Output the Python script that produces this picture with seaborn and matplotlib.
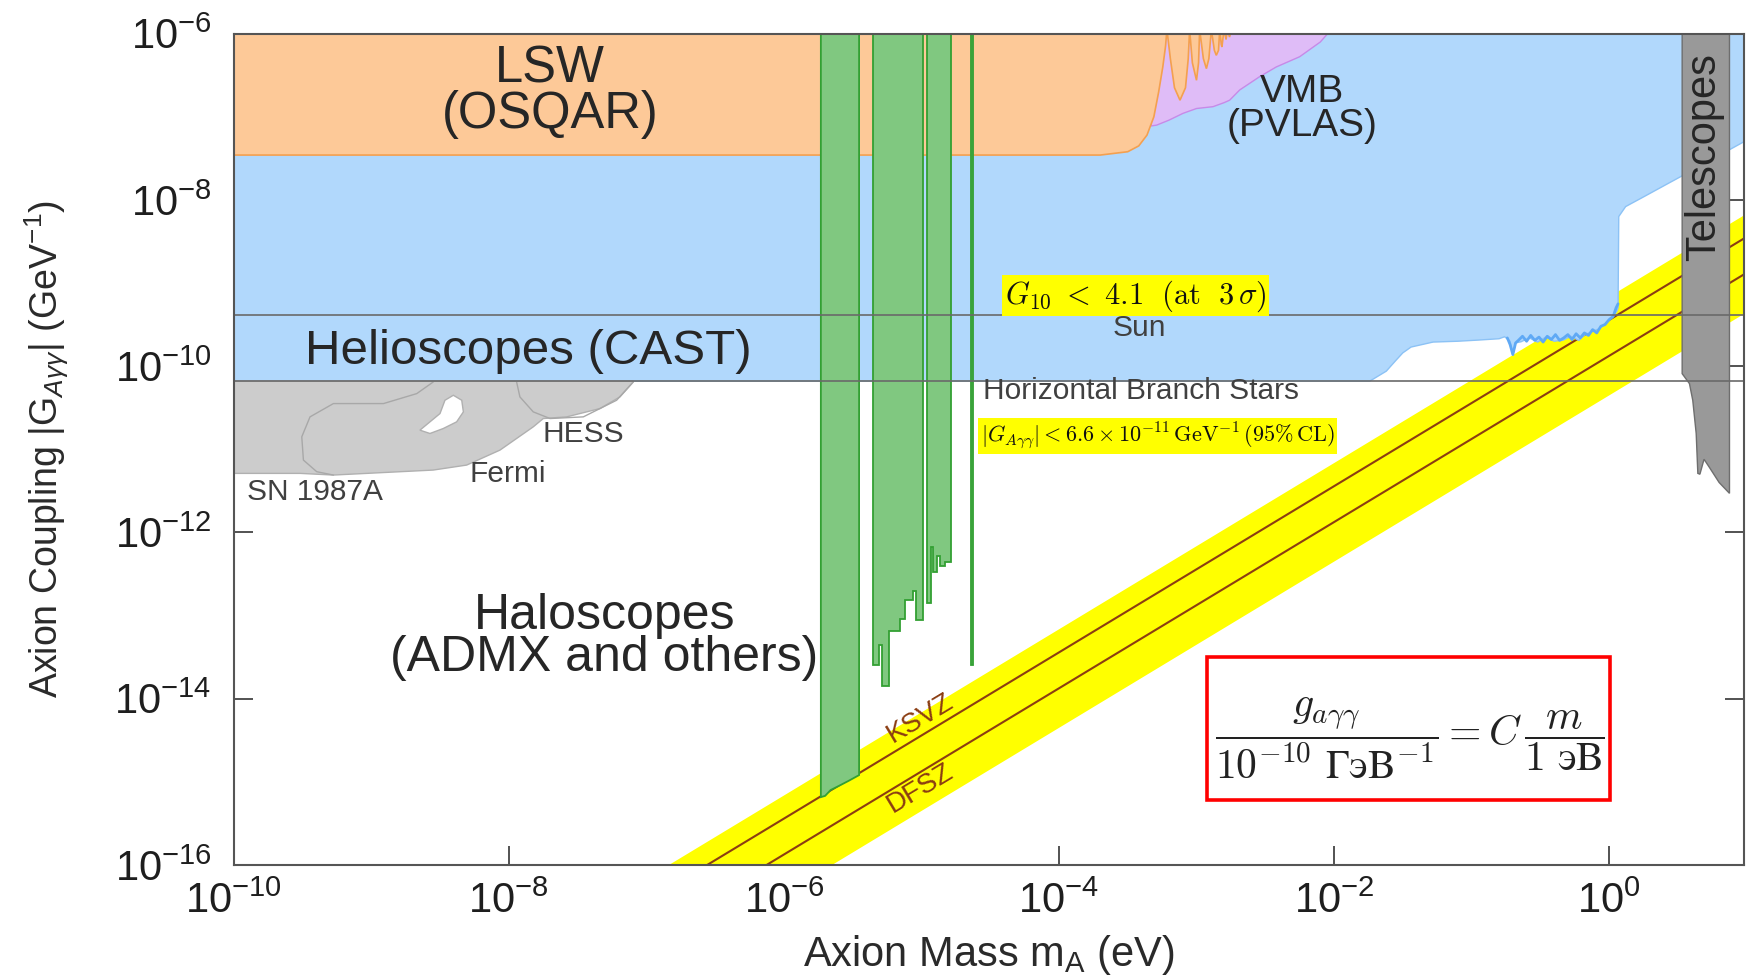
"""Axion parameter space: coupling vs mass exclusion regions (log-log)."""
import matplotlib
matplotlib.use("Agg")
import matplotlib.pyplot as plt
import numpy as np
import seaborn as sns
from matplotlib.patches import Rectangle
from matplotlib.ticker import NullLocator

# All values are log10: x = log10(m_A / eV), y = log10(|G| / GeV^-1)
TOP = -5.9  # just above the plot, regions are clipped by the axes

# LSW (OSQAR): lower boundary, oscillating at high mass
lsw_x = [-10, -3.70, -3.50, -3.42, -3.36, -3.31, -3.275, -3.245, -3.225, -3.215,
         -3.19, -3.16, -3.12, -3.08, -3.06, -3.05, -3.03, -3.00, -2.985,
         -2.977, -2.95, -2.928, -2.91, -2.892, -2.87, -2.856, -2.84, -2.831,
         -2.82, -2.815, -2.80, -2.785, -2.775, -2.76, -2.745]
lsw_y = [-7.46, -7.46, -7.42, -7.35, -7.22, -7.00, -6.70, -6.40, -6.15, -5.95,
         -6.30, -6.65, -6.80, -6.65, -6.30, -5.95, -6.35, -6.56, -6.35,
         -5.95, -6.30, -6.42, -6.30, -5.95, -6.20, -6.26, -6.20, -5.95,
         -6.13, -6.16, -5.95, -6.07, -5.95, -6.04, -5.95]

# VMB (PVLAS)
vmb_x = [-3.33, -3.29, -3.20, -3.098, -3.00, -2.88, -2.80, -2.759, -2.686,
         -2.541, -2.42, -2.25, -2.10, -2.02]
vmb_y = [-7.11, -7.10, -7.04, -6.958, -6.90, -6.878, -6.83, -6.80, -6.677,
         -6.517, -6.40, -6.277, -6.10, -5.95]

# Helioscopes (CAST)
cast_x = [-10, -1.74, -1.62, -1.55, -1.50, -1.44, -1.36, -1.28, -1.10, -0.95,
          -0.80, -0.76, -0.72, -0.70, -0.68, -0.64, -0.58, -0.52, -0.46, -0.40,
          -0.333, -0.28, -0.22, -0.18, -0.12, -0.07, -0.027, 0.02, 0.055, 0.065,
          0.07, 0.12, 0.254, 0.431, 0.52, 0.98]
cast_y = [-10.18, -10.18, -10.06, -9.93, -9.84, -9.77, -9.74, -9.71, -9.70,
          -9.686, -9.67, -9.646, -9.70, -9.87, -9.72, -9.706, -9.66, -9.71,
          -9.65, -9.70, -9.686, -9.64, -9.69, -9.626, -9.58, -9.55, -9.485,
          -9.42, -9.34, -9.30, -8.20, -8.08, -7.96, -7.80, -7.72, -7.30]
cast_noise_x = [-0.74, -0.72, -0.70, -0.68, -0.66, -0.63, -0.60, -0.57, -0.54,
                -0.51, -0.48, -0.45, -0.42, -0.39, -0.36, -0.33, -0.30, -0.27,
                -0.24, -0.21, -0.18, -0.15, -0.12, -0.09, -0.06, -0.03, 0.0,
                0.03, 0.05, 0.065]
cast_noise_y = [-9.66, -9.74, -9.86, -9.72, -9.69, -9.64, -9.70, -9.63, -9.69,
                -9.65, -9.71, -9.64, -9.68, -9.62, -9.69, -9.66, -9.62, -9.68,
                -9.61, -9.66, -9.60, -9.63, -9.56, -9.60, -9.52, -9.50, -9.44,
                -9.40, -9.30, -9.25]

# Haloscopes (ADMX and others): stepped lower edges of each strip
halo_strips = {
    "s1": ([-5.731, -5.70, -5.66, -5.60, -5.53, -5.453],
           [-15.185, -15.17, -15.10, -15.05, -14.99, -14.92]),
    "s2": ([-5.355, -5.307, -5.307, -5.283, -5.283, -5.234, -5.234, -5.157,
            -5.157, -5.121, -5.121, -5.060, -5.060, -5.041, -5.041, -4.992],
           [-13.60, -13.60, -13.35, -13.35, -13.85, -13.85, -13.19, -13.19,
            -13.04, -13.04, -12.81, -12.81, -12.70, -12.70, -13.05, -13.05]),
    "s3": ([-4.956, -4.932, -4.932, -4.915, -4.915, -4.890, -4.890, -4.866,
            -4.866, -4.830, -4.830, -4.786],
           [-12.85, -12.85, -12.18, -12.18, -12.48, -12.48, -12.29, -12.29,
            -12.40, -12.40, -12.36, -12.36]),
    "s4": ([-4.641, -4.625], [-13.60, -13.60]),
}

# Astrophysics (SN 1987A / Fermi / HESS) lower boundary under the HB line
astro_x = [-10, -9.517, -9.275, -9.033, -8.791, -8.549, -8.306, -8.064,
           -7.943, -7.822, -7.749, -7.579, -7.337, -7.192, -7.095]
astro_y = [-11.29, -11.29, -11.31, -11.29, -11.27, -11.25, -11.19, -11.01,
           -10.87, -10.73, -10.63, -10.61, -10.51, -10.37, -10.19]
fermi_x = [-8.549, -8.669, -8.911, -9.275, -9.445, -9.505, -9.493, -9.396, -9.275]
fermi_y = [-10.19, -10.33, -10.45, -10.45, -10.61, -10.85, -11.13, -11.27, -11.31]
hess_x = [-7.943, -7.919, -7.822, -7.70, -7.458, -7.216, -7.095]
hess_y = [-10.19, -10.37, -10.55, -10.63, -10.61, -10.41, -10.19]
hole_x = [-8.646, -8.573, -8.50, -8.464, -8.403, -8.342, -8.330, -8.379, -8.476, -8.573]
hole_y = [-10.77, -10.67, -10.57, -10.41, -10.35, -10.41, -10.55, -10.67, -10.75, -10.81]

# Telescopes
tel_x = [0.531, 0.531, 0.584, 0.608, 0.633, 0.645, 0.66, 0.69, 0.73, 0.80, 0.875, 0.875]
tel_y = [TOP, -10.09, -10.21, -10.41, -10.81, -11.29, -11.30, -11.12, -11.22,
         -11.40, -11.53, TOP]

# QCD axion band and model lines (straight in log-log)
band_x = [-7.0, 1.0]
band_hi = [-16.157, -8.157]
band_lo = [-17.343, -9.343]
ksvz_y = [-16.444, -8.444]
dfsz_y = [-16.876, -8.876]

# horizontal limits
sun_limit = 4.1e-10
hb_limit = 6.6e-11

# formula box corners
box_x = [-2.922, 0.008]
box_y = [-15.216, -13.50]

P = lambda v: np.power(10.0, np.asarray(v, dtype=float))

sns.set_theme(style="ticks")
plt.rcParams["font.family"] = ["Liberation Sans", "DejaVu Sans"]
plt.rcParams.update({
    "mathtext.fontset": "custom",
    "mathtext.rm": "Liberation Sans",
    "mathtext.it": "Liberation Sans:italic",
    "mathtext.bf": "Liberation Sans:bold",
    "axes.unicode_minus": False,
    "axes.edgecolor": "#555555",
    "axes.linewidth": 1.5,
})

fig = plt.figure(figsize=(17.61, 9.80), dpi=100)
ax = fig.add_axes([0.1327, 0.1175, 0.8576, 0.8481])
ax.set_xscale("log")
ax.set_yscale("log")


def region(xs, ys, top=TOP, **kw):
    px = list(xs) + [xs[-1], xs[0]]
    py = list(ys) + [top, top]
    ax.fill(P(px), P(py), **kw)


# stacking: axion band, CAST, VMB, LSW, haloscopes, astro, telescopes
ax.fill_between(P(band_x), P(band_lo), P(band_hi), color="#ffff00", lw=0, zorder=1)
region(cast_x, cast_y, facecolor="#b1d8fc", edgecolor="#8cc2f5", lw=1, zorder=2)
sns.lineplot(x=P(cast_noise_x), y=P(cast_noise_y), color="#5fa9f5", lw=2,
             ax=ax, zorder=2.5, sort=False, estimator=None)
region(vmb_x, vmb_y, facecolor="#dfbcf7", edgecolor="#c78ae8", lw=1, zorder=3)
region(lsw_x, lsw_y, facecolor="#fdc998", edgecolor="#f4a04f", lw=1.2, zorder=4)
for xs, ys in halo_strips.values():
    region(xs, ys, facecolor="#80c880", edgecolor="#33a033", lw=1.3, zorder=5)
region(astro_x, astro_y, top=np.log10(hb_limit), facecolor="#cccccc",
       edgecolor="#b0b0b0", lw=1, zorder=3)
ax.plot(P(fermi_x), P(fermi_y), color="#a8a8a8", lw=1, zorder=3.2)
ax.plot(P(hess_x), P(hess_y), color="#a8a8a8", lw=1, zorder=3.2)
ax.fill(P(hole_x), P(hole_y), facecolor="white", edgecolor="#b0b0b0", lw=1, zorder=3.3)
ax.fill(P(tel_x), P(tel_y), facecolor="#999999", edgecolor="#6e6e6e", lw=1, zorder=6)

for yv in (ksvz_y, dfsz_y):
    sns.lineplot(x=P(band_x), y=P(yv), color="#8b3d12", lw=1.5, ax=ax, zorder=1.5)

for lim in (sun_limit, hb_limit):
    ax.axhline(lim, color="#6a6a6a", lw=1.2, zorder=7)

ax.add_patch(Rectangle((P(box_x[0]), P(box_y[0])), P(box_x[1]) - P(box_x[0]),
                       P(box_y[1]) - P(box_y[0]), fill=False,
                       edgecolor="#ff0000", lw=2.6, zorder=8))

ax.set_xlim(1e-10, P(0.98))
ax.set_ylim(1e-16, 1e-6)
ax.set_xticks(P(np.arange(-10, 1, 2)))
ax.set_yticks(P(np.arange(-16, -5, 2)))
ax.xaxis.set_minor_locator(NullLocator())
ax.yaxis.set_minor_locator(NullLocator())
ax.tick_params(direction="in", length=14, width=1.3, color="#444444",
               top=True, right=True, labelsize=30, labelcolor="#1e1e1e")
ax.tick_params(axis="x", pad=12)
ax.tick_params(axis="y", pad=16)
for s in ax.spines.values():
    s.set_zorder(10)

ax.set_xlabel(r"Axion Mass m$_\mathregular{A}$ (eV)", fontsize=30, color="#2a2a2a")
ax.set_ylabel(r"Axion Coupling |G$_{A\gamma\gamma}$| (GeV$^{-1}$)", fontsize=27,
              color="#2a2a2a")
ax.xaxis.set_label_coords(0.5, -0.082)
ax.yaxis.set_label_coords(-0.108, 0.5)

txt = dict(color="#262626", ha="center", va="center", zorder=9)
ax.text(P(-7.698), P(-6.70), "LSW\n(OSQAR)", fontsize=36.5, linespacing=0.92, **txt)
ax.text(P(-2.23), P(-6.906), "VMB\n(PVLAS)", fontsize=28, linespacing=0.9, **txt)
ax.text(P(-7.857), P(-9.824), "Helioscopes (CAST)", fontsize=35.5, **txt)
ax.text(P(0.694), P(-7.486), "Telescopes", fontsize=30, rotation=90, **txt)
ax.text(P(-7.306), P(-13.26), "Haloscopes\n(ADMX and others)", fontsize=36,
        linespacing=0.9, **txt)

small = dict(color="#404040", fontsize=21.5, va="center", zorder=9)
ax.text(P(-3.412), P(-9.54), "Sun", ha="center", **small)
ax.text(P(-4.555), P(-10.30), "Horizontal Branch Stars", ha="left", **small)
ax.text(P(-9.90), P(-11.51), "SN 1987A", ha="left", **small)
ax.text(P(-8.286), P(-11.30), "Fermi", ha="left", **small)
ax.text(P(-7.755), P(-10.82), "HESS", ha="left", **small)

ax.text(P(-5.012), P(-14.235), "KSVZ", rotation=31, fontsize=20, color="#8b3d12",
        ha="center", va="center", zorder=9)
ax.text(P(-5.012), P(-15.077), "DFSZ", rotation=31, fontsize=20, color="#8b3d12",
        ha="center", va="center", zorder=9)

hl = dict(facecolor="#ffff00", edgecolor="none", pad=2)
ax.text(P(-3.441), P(-9.155), r"$G_{10}\ <\ 4.1\ \ (\mathrm{at}\ \ 3\,\sigma)$",
        fontsize=22, math_fontfamily="cm", bbox=hl, ha="center", va="center",
        color="#111111", zorder=9)
ax.text(P(-3.282), P(-10.838),
        r"$|G_{A\gamma\gamma}| < 6.6\times10^{-11}\,\mathrm{GeV}^{-1}\,(95\%\,\mathrm{CL})$",
        fontsize=16, math_fontfamily="cm", bbox=hl, ha="center", va="center",
        color="#111111", zorder=9)
ax.text(P(-1.445), P(-14.47),
        r"$\dfrac{g_{a\gamma\gamma}}{10^{-10}\ \mathrm{ГэВ}^{-1}} = C\,\dfrac{m}{1\ \mathrm{эВ}}$",
        fontsize=30, math_fontfamily="cm", ha="center", va="center",
        color="#222222", zorder=9)

fig.savefig("out.png", dpi=100)
print("Wrote out.png")
